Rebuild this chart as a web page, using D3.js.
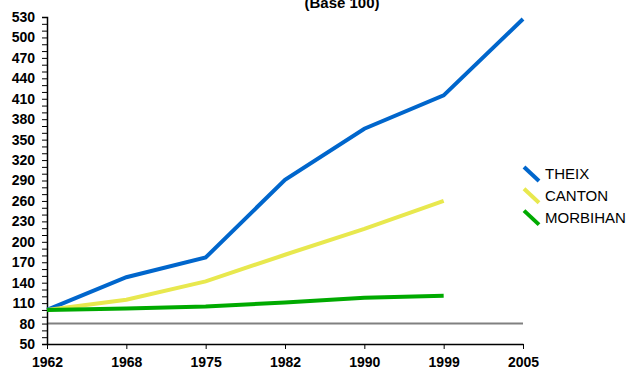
<!DOCTYPE html>
<html>
<head>
<meta charset="utf-8">
<script src="https://cdn.jsdelivr.net/npm/d3@7"></script>
<style>
  html, body { margin: 0; padding: 0; background: #fff; }
  svg { display: block; font-family: "Liberation Sans", Arial, sans-serif; }
</style>
</head>
<body>
<svg id="chart" width="629" height="370"></svg>
<script>
const years = ["1962", "1968", "1975", "1982", "1990", "1999", "2005"];
const theix = [100, 148, 177, 291, 366, 415, 527];
const canton = [100, 115, 142, 181, 219, 260, null];
const morbihan = [100, 102, 105, 111, 118, 121, null];
const seriesNames = ["THEIX", "CANTON", "MORBIHAN"];
const seriesColors = ["#0066CC", "#E8E84E", "#00AA00"];
const yTicks = d3.range(50, 531, 10);
const yLabelTicks = d3.range(50, 531, 30);
const refValue = 80;
const titleText = "(Base 100)";

const series = [theix, canton, morbihan];

const svg = d3.select("#chart");
const x = d3.scalePoint().domain(years).range([47, 523]);
const y = d3.scaleLinear().domain([50, 530]).range([344, 17]);

// title (partly cut off at top, as in the reference)
svg.append("text")
  .attr("x", 342).attr("y", 8)
  .attr("text-anchor", "middle")
  .attr("font-weight", "bold")
  .attr("font-size", 15)
  .text(titleText);

// reference line at 80
svg.append("line")
  .attr("x1", x(years[0])).attr("x2", x(years[years.length - 1]))
  .attr("y1", y(refValue)).attr("y2", y(refValue))
  .attr("stroke", "#808080").attr("stroke-width", 2);

// y axis
const yAxis = d3.axisLeft(y)
  .tickValues(yTicks)
  .tickSize(5)
  .tickPadding(7)
  .tickFormat(d => yLabelTicks.includes(d) ? d : "");
const gy = svg.append("g").attr("transform", `translate(${x(years[0])},0)`).call(yAxis);
gy.select(".domain").attr("stroke", "#000").attr("stroke-width", 1.5);
gy.selectAll(".tick line").attr("stroke", "#000");
gy.selectAll("text").attr("font-size", 14).attr("font-weight", "bold").attr("fill", "#000")
  .attr("font-family", "'Liberation Sans', Arial, sans-serif");

// x axis
const xAxis = d3.axisBottom(x).tickSize(5).tickPadding(8).tickSizeOuter(0);
const gx = svg.append("g").attr("transform", `translate(0,${y(50)})`).call(xAxis);
gx.select(".domain").attr("stroke", "#000").attr("stroke-width", 1.5);
gx.selectAll(".tick line").attr("stroke", "#000");
gx.selectAll("text").attr("font-size", 14).attr("font-weight", "bold").attr("fill", "#000")
  .attr("font-family", "'Liberation Sans', Arial, sans-serif");

// lines
const line = d3.line()
  .defined(d => d.v != null)
  .x(d => x(d.year))
  .y(d => y(d.v));

series.forEach((vals, i) => {
  const data = years.map((yr, j) => ({ year: yr, v: vals[j] }));
  svg.append("path")
    .datum(data)
    .attr("d", line)
    .attr("fill", "none")
    .attr("stroke", seriesColors[i])
    .attr("stroke-width", 4)
    .attr("stroke-linejoin", "miter");
});

// legend
const legend = svg.append("g");
seriesNames.forEach((name, i) => {
  const cy = 174 + i * 21.8;
  legend.append("line")
    .attr("x1", 524).attr("y1", cy - 7)
    .attr("x2", 539).attr("y2", cy + 7)
    .attr("stroke", seriesColors[i]).attr("stroke-width", 4);
  legend.append("text")
    .attr("x", 545).attr("y", cy)
    .attr("dy", "0.35em")
    .attr("font-size", 15)
    .attr("fill", "#000")
    .text(name);
});
</script>
</body>
</html>
